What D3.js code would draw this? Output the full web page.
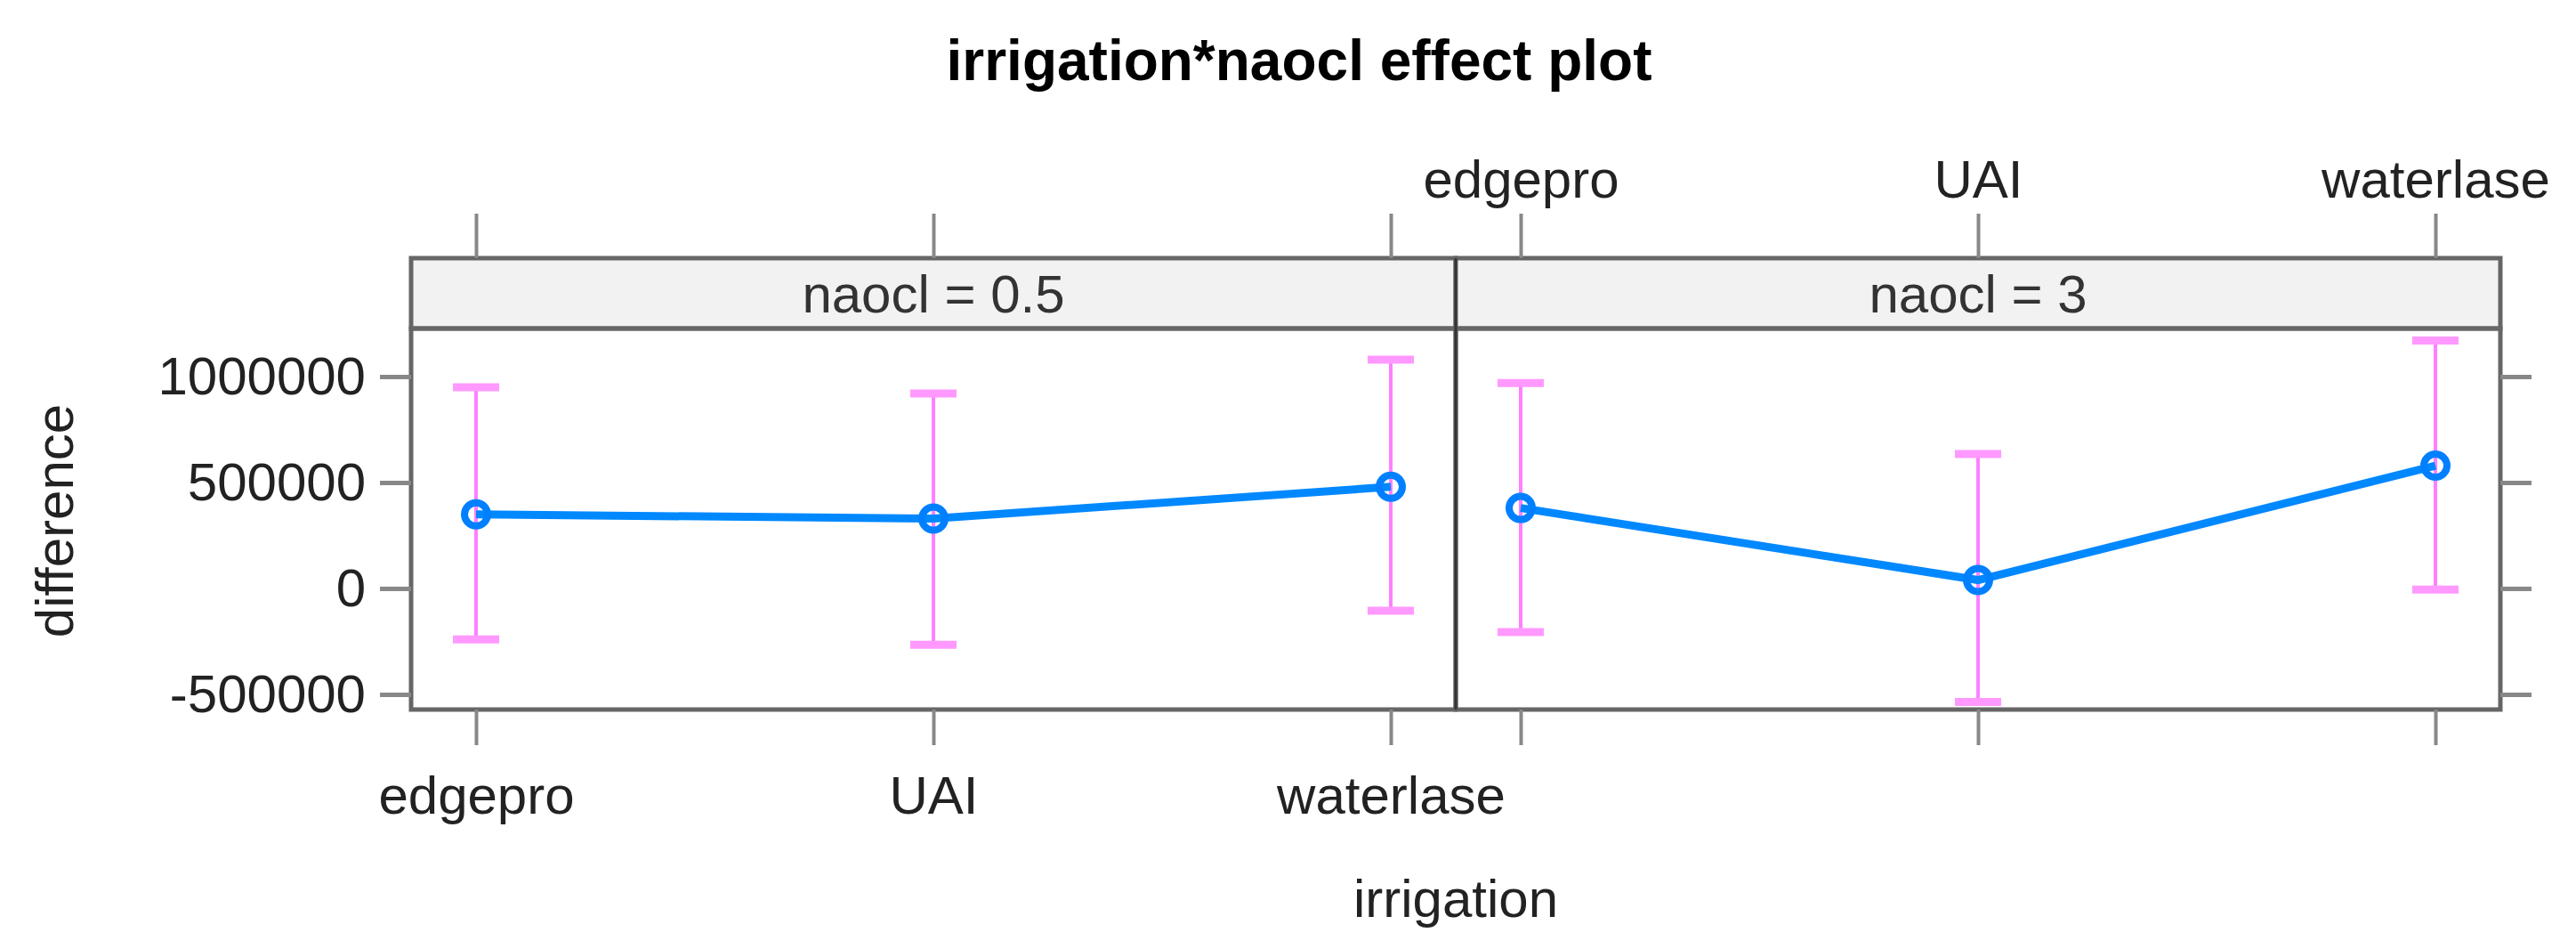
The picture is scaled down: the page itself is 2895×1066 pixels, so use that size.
<!DOCTYPE html><html><head><meta charset="utf-8">
<script src="https://cdn.jsdelivr.net/npm/d3@7"></script>
<style>body{margin:0;background:#fff}text{font-family:"Liberation Sans",Arial,sans-serif}</style></head><body>
<svg id="c" width="2895" height="1066"></svg>
<script>
const categories=["edgepro","UAI","waterlase"];
const panels=["naocl = 0.5","naocl = 3"];
const est0=[350000,330000,480000], lo0=[-240000,-265000,-105000], hi0=[950000,920000,1080000];
const est1=[380000,40000,580000], lo1=[-205000,-535000,-5000], hi1=[970000,635000,1170000];
const yTicks=[-500000,0,500000,1000000];
const series=[{e:est0,l:lo0,h:hi0},{e:est1,l:lo1,h:hi1}];

const svg=d3.select("#c");
const L=462,M=1636,R=2810,T=290,S=369,B=797;
const FS=60;
const y=d3.scaleLinear().domain([-571000,1227000]).range([B,S]);
const fx=d3.scaleBand().domain(panels).range([L,R]);
const gray="#666";
svg.append("text").attr("x",1460).attr("y",90).attr("text-anchor","middle").attr("font-size",64).attr("font-weight","bold").text("irrigation*naocl effect plot");
panels.forEach((p,pi)=>{
  const x0=fx(p), w=fx.bandwidth();
  const x=d3.scalePoint().domain(categories).range([x0,x0+w]).padding(0.142);
  svg.append("rect").attr("x",x0).attr("y",T).attr("width",w).attr("height",S-T).attr("fill","#f2f2f2").attr("stroke",gray).attr("stroke-width",5);
  svg.append("text").attr("x",x0+w/2).attr("y",S-18).attr("text-anchor","middle").attr("font-size",FS).attr("fill","#333").text(p);
  svg.append("rect").attr("x",x0).attr("y",S).attr("width",w).attr("height",B-S).attr("fill","none").attr("stroke",gray).attr("stroke-width",5);
  const ax=d3.axisBottom(x).tickSizeOuter(0).tickSize(40).tickPadding(34);
  const gb=svg.append("g").attr("transform",`translate(0,${B})`).call(ax);
  const axt=d3.axisTop(x).tickSizeOuter(0).tickSize(50).tickPadding(18);
  const gt=svg.append("g").attr("transform",`translate(0,${T})`).call(axt);
  [gb,gt].forEach(g=>{g.select(".domain").remove();g.selectAll("line").attr("stroke","#888").attr("stroke-width",4);g.selectAll("text").attr("font-size",FS).attr("fill","#222").attr("font-family","Liberation Sans, Arial, sans-serif");});
  if(pi===0) gt.selectAll("text").remove(); else gb.selectAll("text").remove();
  const d=series[pi];
  const g=svg.append("g");
  categories.forEach((c,i)=>{
    g.append("line").attr("x1",x(c)).attr("x2",x(c)).attr("y1",y(d.l[i])).attr("y2",y(d.h[i])).attr("stroke","#ff80ff").attr("stroke-width",4);
    [d.l[i],d.h[i]].forEach(v=>g.append("line").attr("x1",x(c)-26).attr("x2",x(c)+26).attr("y1",y(v)).attr("y2",y(v)).attr("stroke","#ff99ff").attr("stroke-width",9));
  });
  g.append("path").datum(categories).attr("d",d3.line().x(c=>x(c)).y((c,i)=>y(d.e[i]))).attr("fill","none").attr("stroke","#0088ff").attr("stroke-width",9);
  categories.forEach((c,i)=>g.append("circle").attr("cx",x(c)).attr("cy",y(d.e[i])).attr("r",13).attr("fill","none").attr("stroke","#0080ff").attr("stroke-width",8));
});
svg.append("line").attr("x1",M).attr("x2",M).attr("y1",T).attr("y2",B).attr("stroke","#333").attr("stroke-width",3);
const gl=svg.append("g").attr("transform",`translate(${L},0)`).call(d3.axisLeft(y).tickValues(yTicks).tickSize(35).tickPadding(16).tickFormat(v=>String(v)));
const gr=svg.append("g").attr("transform",`translate(${R},0)`).call(d3.axisRight(y).tickValues(yTicks).tickSize(35).tickFormat(""));
[gl,gr].forEach(g=>{g.select(".domain").remove();g.selectAll("line").attr("stroke","#888").attr("stroke-width",5);g.selectAll("text").attr("font-size",FS).attr("fill","#222").attr("font-family","Liberation Sans, Arial, sans-serif");});
svg.append("text").attr("transform","translate(82,585) rotate(-90)").attr("text-anchor","middle").attr("font-size",FS).attr("fill","#222").text("difference");
svg.append("text").attr("x",1636).attr("y",1030).attr("text-anchor","middle").attr("font-size",FS).attr("fill","#222").text("irrigation");
</script></body></html>
